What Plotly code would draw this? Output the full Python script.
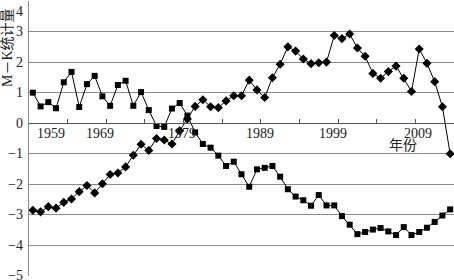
import plotly.graph_objects as go

# ---- data ----
years = list(range(1959, 2014))
uf = [1.00, 0.55, 0.69, 0.49, 1.34, 1.68, 0.53, 1.28, 1.55, 0.88, 0.57, 1.25, 1.39, 0.57, 1.02, 0.43,
      -0.09, -0.12, 0.48, 0.66, 0.25, -0.30,
      -0.68, -0.80, -1.06, -1.40, -1.26, -1.67, -2.08, -1.51, -1.46, -1.40, -1.75, -2.16, -2.40, -2.52, -2.70,
      -2.35, -2.69, -2.69, -3.04, -3.32, -3.63, -3.56, -3.48, -3.43, -3.54, -3.66, -3.40, -3.66, -3.56, -3.42,
      -3.23, -3.02, -2.82]
ub = [-2.85, -2.90, -2.73, -2.78, -2.59, -2.48, -2.24, -2.04, -2.28, -1.98, -1.68, -1.63, -1.43, -1.05, -0.69, -0.89,
      -0.50, -0.55, -0.68, -0.25, 0.14,
      0.55, 0.77, 0.54, 0.51, 0.73, 0.90, 0.90, 1.41, 1.09, 0.84, 1.49, 1.93, 2.50, 2.36, 2.10, 1.95, 1.98, 2.00,
      2.87, 2.77, 2.92, 2.46, 2.19, 1.63, 1.47, 1.69, 1.87, 1.47, 1.04, 2.43, 1.96, 1.36, 0.54, -1.00]
x_labels = ["1959", "1969", "1979", "1989", "1999", "2009"]
y_ticks = [4, 3, 2, 1, 0, -1, -2, -3, -4, -5]
y_title = "M－K统计量"
x_title = "年份"

# ---- layout helpers (positions, not data) ----
x_label_pos = [1961.3, 1967.7, 1978.3, 1988.4, 1997.9, 2008.8]
x_tick_pos = [1963.5 + 5 * k for k in range(11)]

SERIF = "Liberation Serif, 'Times New Roman', 'Noto Sans CJK SC', serif"
GRID = "#8a8a8a"
W, H = 454, 280
ML, MR, MT, MB = 29, 0, 1, 4
pw, ph = W - ML - MR, H - MT - MB

fig = go.Figure()
fig.add_trace(go.Scatter(x=years, y=uf, mode="lines+markers",
                         line=dict(color="black", width=1),
                         marker=dict(symbol="square", size=6, color="black"),
                         showlegend=False, cliponaxis=False))
fig.add_trace(go.Scatter(x=years, y=ub, mode="lines+markers",
                         line=dict(color="black", width=1),
                         marker=dict(symbol="diamond", size=7, color="black"),
                         showlegend=False, cliponaxis=False))

annotations = []
for pos, lab in zip(x_label_pos, x_labels):
    annotations.append(dict(x=pos, y=0, xref="x", yref="y", text=lab, showarrow=False,
                            xanchor="center", yanchor="middle", yshift=-10.5,
                            font=dict(family=SERIF, size=14, color="#222")))
annotations.append(dict(x=2006.95, y=-0.68, xref="x", yref="y", text=x_title, showarrow=False,
                        xanchor="center", yanchor="middle",
                        font=dict(family="Noto Sans CJK SC", size=14, color="#222")))
for v in y_ticks:
    txt = str(v) if v >= 0 else "−" + str(-v)
    top = v == max(y_ticks)
    bottom = v == min(y_ticks)
    annotations.append(dict(x=0, y=v, xref="paper", yref="y", text=txt, showarrow=False,
                            xanchor="right", yanchor="top" if top else "middle",
                            xshift=-4, yshift=-1 if top else (1 if bottom else 0),
                            font=dict(family=SERIF, size=14, color="#222")))
annotations.append(dict(x=(7.5 - ML) / pw, y=(H - MB - 47.5) / ph, xref="paper", yref="paper",
                        text=y_title, showarrow=False, textangle=-90,
                        xanchor="center", yanchor="middle",
                        font=dict(family=SERIF, size=14, color="#222")))

fig.update_layout(
    width=W, height=H,
    margin=dict(l=ML, r=MR, t=MT, b=MB, pad=0),
    paper_bgcolor="white", plot_bgcolor="white",
    annotations=annotations,
    xaxis=dict(range=[1958.5, 2013.5], anchor="free", position=5 / 9,
               showline=True, linecolor="#555", linewidth=1,
               tickmode="array", tickvals=x_tick_pos, ticks="inside", ticklen=4,
               tickcolor="#555", showticklabels=False, showgrid=False, zeroline=False),
    yaxis=dict(range=[-5, 4], tickmode="array", tickvals=y_ticks, showticklabels=False,
               showgrid=True, gridcolor=GRID, gridwidth=1, zeroline=False,
               showline=True, linecolor=GRID, linewidth=1, mirror=True, ticks=""),
)
fig.write_html("out.html")
